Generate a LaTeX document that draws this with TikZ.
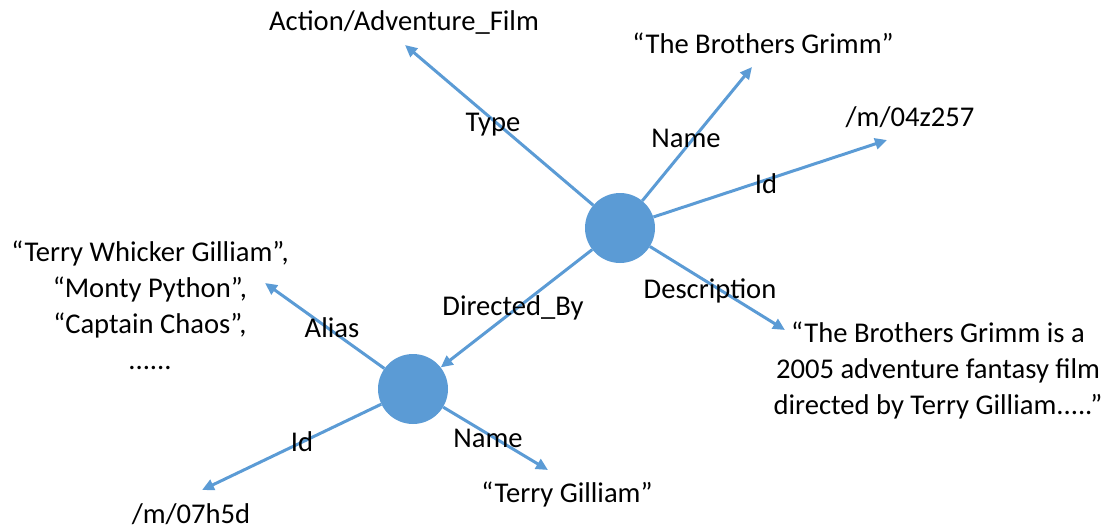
\documentclass[tikz,border=0pt]{standalone}
\usepackage{fontspec}
\setmainfont{Carlito}
\usetikzlibrary{arrows.meta}
\definecolor{eblue}{HTML}{5B9BD5}
\tikzset{
  ent/.style={circle,fill=eblue,draw=none,minimum size=70pt,inner sep=0pt},
  txt/.style={inner sep=0pt,align=center,font=\fontsize{28.6}{36}\selectfont},
  lbl/.style={inner sep=0pt,font=\fontsize{28.6}{36}\selectfont},
  rel/.style={draw=eblue,line width=3pt,-{Triangle[length=12pt,width=11pt]}}
}
\begin{document}
\begin{tikzpicture}[x=1pt,y=-1pt]
\useasboundingbox (0,0) rectangle (1112,531);
\node[ent] (A) at (620,228) {};
\node[ent] (B) at (413,389) {};
% text nodes
\node[txt] (type) at (404,22) {Action/Adventure\_Film};
\node[txt] (name) at (763,43) {“The Brothers Grimm”};
\node[txt] (id) at (910,117) {/m/04z257};
\node[txt] (desc) at (938,370) {“The Brothers Grimm is a\\2005 adventure fantasy film\\directed by Terry Gilliam.....”};
\node[txt] (alias) at (150,305) {“Terry Whicker Gilliam”,\\“Monty Python”,\\“Captain Chaos”,\\......};
\node[txt] (bname) at (567,494) {“Terry Gilliam”};
\node[txt] (bid) at (191,514) {/m/07h5d};
% arrow end points
\coordinate (tType) at (405,45);
\coordinate (tName) at (752,67);
\coordinate (tId) at (887,140);
\coordinate (tDesc) at (785,330);
\coordinate (tAlias) at (265,283);
\coordinate (tBId) at (202,490);
\coordinate (tBName) at (548,470);
% connectors
\draw[rel] (A) -- (tType);
\draw[rel] (A) -- (tName);
\draw[rel] (A) -- (tId);
\draw[rel] (A) -- (tDesc);
\draw[rel] (A) -- (B);
\draw[rel] (B) -- (tAlias);
\draw[rel] (B) -- (tBId);
\draw[rel] (B) -- (tBName);
% labels
\node[lbl] (lType) at (493,125) {Type};
\node[lbl] (lName) at (686,138) {Name};
\node[lbl] (lId) at (766,184) {Id};
\node[lbl] (lDesc) at (710,291) {Description};
\node[lbl] (lDir) at (513,308) {Directed\_By};
\node[lbl] (lAlias) at (332,328) {Alias};
\node[lbl] (lBId) at (302,442) {Id};
\node[lbl] (lBName) at (488,438) {Name};
\end{tikzpicture}
\end{document}
